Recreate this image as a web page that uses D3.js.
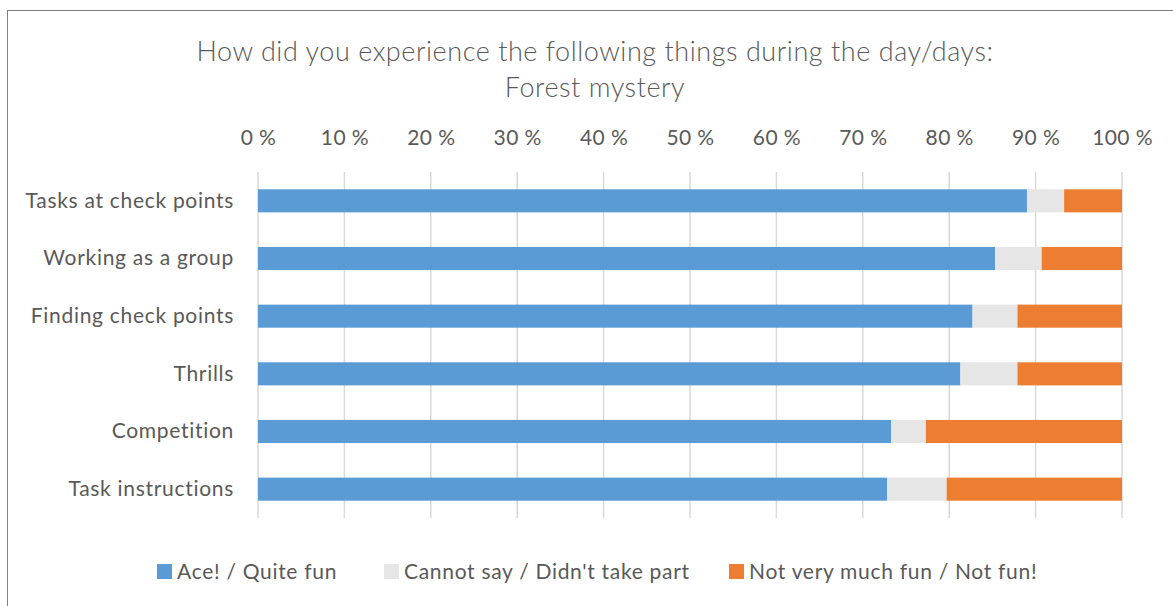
<!DOCTYPE html>
<html>
<head>
<meta charset="utf-8">
<script src="https://cdn.jsdelivr.net/npm/d3@7"></script>
<style>
  html, body { margin: 0; padding: 0; background: #fff; }
  svg text { font-family: Lato, "Open Sans", sans-serif; fill: #595959; }
</style>
</head>
<body>
<svg id="chart" width="1173" height="606"></svg>
<script>
// Survey responses (% of respondents)
const categories = ["Tasks at check points", "Working as a group", "Finding check points", "Thrills ", "Competition", "Task instructions"];
const seriesNames = ["Ace! / Quite fun", "Cannot say / Didn't take part", "Not very much fun / Not fun!"];
const aceQuiteFun = [89.0, 85.3, 82.7, 81.3, 73.3, 72.8];
const cannotSay = [4.3, 5.4, 5.2, 6.6, 4.0, 6.9];
const notFun = [6.7, 9.3, 12.1, 12.1, 22.7, 20.3];
const tickValues = [0, 10, 20, 30, 40, 50, 60, 70, 80, 90, 100];
const colors = ["#5b9bd5", "#e7e6e6", "#ed7d31"];

const svg = d3.select("#chart");

// outer chart frame
svg.append("rect")
  .attr("x", 7.5).attr("y", 10.5)
  .attr("width", 1180).attr("height", 620)
  .attr("fill", "none").attr("stroke", "#808080").attr("stroke-width", 1);

// title
const title = svg.append("text")
  .attr("text-anchor", "middle")
  .style("font-size", "27px")
  .style("font-weight", 300)
  .style("letter-spacing", "0.55px");
title.append("tspan").attr("x", 595).attr("y", 61)
  .text("How did you experience the following things during the day/days:");
title.append("tspan").attr("x", 595).attr("y", 97)
  .text("Forest mystery");

const margin = { left: 258, right: 1122, top: 172, bottom: 518 };

const x = d3.scaleLinear().domain([0, 100]).range([margin.left, margin.right]);
const y = d3.scaleBand().domain(categories).range([margin.top, margin.bottom]).paddingInner(0.6).paddingOuter(0.3);

// vertical gridlines
svg.append("g")
  .selectAll("line")
  .data(tickValues)
  .join("line")
  .attr("x1", d => x(d)).attr("x2", d => x(d))
  .attr("y1", margin.top).attr("y2", margin.bottom)
  .attr("stroke", "#d9d9d9").attr("stroke-width", 1.5);

// top percentage axis
const xAxis = svg.append("g")
  .attr("transform", `translate(0,${margin.top - 25})`)
  .call(d3.axisTop(x).tickValues(tickValues).tickFormat(d => d + " %").tickSize(0));
xAxis.select(".domain").remove();
xAxis.selectAll("text")
  .style("font-size", "21px")
  .style("letter-spacing", "0.4px")
  .attr("dy", "0.05em")
  .attr("fill", "#595959");

// category labels
const yAxis = svg.append("g")
  .attr("transform", `translate(${margin.left - 24},0)`)
  .call(d3.axisLeft(y).tickSize(0));
yAxis.select(".domain").remove();
yAxis.selectAll("text")
  .style("font-size", "21px")
  .style("letter-spacing", "0.7px")
  .attr("fill", "#595959")
  .attr("x", 0);

// stacked bars
const rows = categories.map((c, i) => ({ cat: c, v: [aceQuiteFun[i], cannotSay[i], notFun[i]] }));
const stack = d3.stack().keys([0, 1, 2]).value((d, k) => d.v[k]);
const layers = stack(rows);

svg.append("g")
  .selectAll("g")
  .data(layers)
  .join("g")
  .attr("fill", (d, i) => colors[i])
  .selectAll("rect")
  .data(d => d)
  .join("rect")
  .attr("x", d => x(d[0]))
  .attr("width", d => x(Math.min(d[1], 100)) - x(d[0]))
  .attr("y", d => y(d.data.cat))
  .attr("height", y.bandwidth());

// legend
const legendPos = [157, 384, 729];
const legend = svg.append("g")
  .selectAll("g")
  .data(seriesNames)
  .join("g")
  .attr("transform", (d, i) => `translate(${legendPos[i]},564)`);
legend.append("rect")
  .attr("width", 15).attr("height", 15)
  .attr("fill", (d, i) => colors[i]);
legend.append("text")
  .attr("x", 20).attr("y", 7.5)
  .attr("dy", "0.35em")
  .style("font-size", "21px")
  .style("letter-spacing", "0.7px")
  .text(d => d);
</script>
</body>
</html>
